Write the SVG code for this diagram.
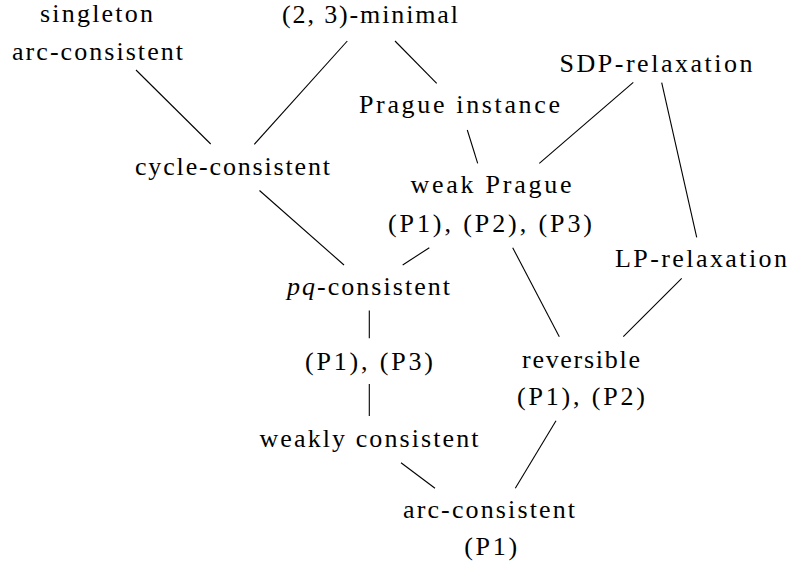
<svg xmlns="http://www.w3.org/2000/svg" width="790" height="565" viewBox="0 0 790 565">
<style>
text{font-size:26px;fill:#000;text-anchor:middle}
.it{font-style:italic}
#edges line{stroke:#000;stroke-width:1.1;fill:none}
</style>
<rect width="790" height="565" fill="#fff"/>
<g id="edges">
<line x1="136" y1="70" x2="210.7" y2="144"/>
<line x1="347.3" y1="41" x2="254.3" y2="144.3"/>
<line x1="395" y1="41" x2="436.7" y2="83.3"/>
<line x1="467.3" y1="130" x2="477.7" y2="163.3"/>
<line x1="633.3" y1="82.3" x2="539.3" y2="163.3"/>
<line x1="661.7" y1="82.7" x2="696.7" y2="237.3"/>
<line x1="259.5" y1="190.5" x2="344" y2="265"/>
<line x1="429.3" y1="247.7" x2="402.7" y2="265"/>
<line x1="512.7" y1="247.7" x2="559.3" y2="336.7"/>
<line x1="681.7" y1="278.3" x2="623.3" y2="336.7"/>
<line x1="369.3" y1="310.5" x2="369.3" y2="338.3"/>
<line x1="369.3" y1="384" x2="369.3" y2="416"/>
<line x1="401" y1="462.7" x2="435" y2="488.3"/>
<line x1="556" y1="420.7" x2="515.3" y2="488.3"/>
</g>
<g font-family="Liberation Serif">
<g id="singleton-ac">
<text x="96.5" y="22" textLength="113">singleton</text>
<text x="97.5" y="60" textLength="171">arc-consistent</text>
</g>
<g id="minimal23">
<text x="370" y="23" textLength="176">(2, 3)-minimal</text>
</g>
<g id="prague">
<text x="459.5" y="113" textLength="201">Prague instance</text>
</g>
<g id="sdp">
<text x="656" y="72" textLength="193">SDP-relaxation</text>
</g>
<g id="cycle">
<text x="232.5" y="175" textLength="195">cycle-consistent</text>
</g>
<g id="weakprague">
<text x="491" y="193" textLength="161">weak Prague</text>
<text x="490" y="232" textLength="204">(P1), (P2), (P3)</text>
</g>
<g id="lp">
<text x="701" y="267" textLength="172">LP-relaxation</text>
</g>
<g id="pq">
<text x="368.5" y="295" textLength="163"><tspan class="it">pq</tspan>-consistent</text>
</g>
<g id="p1p3">
<text x="369" y="370" textLength="128">(P1), (P3)</text>
</g>
<g id="reversible">
<text x="581" y="367.5" textLength="118">reversible</text>
<text x="581" y="405" textLength="128">(P1), (P2)</text>
</g>
<g id="weakly">
<text x="369" y="447" textLength="219">weakly consistent</text>
</g>
<g id="arc">
<text x="489" y="518" textLength="172">arc-consistent</text>
<text x="490.7" y="555" textLength="53">(P1)</text>
</g>
</g>
</svg>
